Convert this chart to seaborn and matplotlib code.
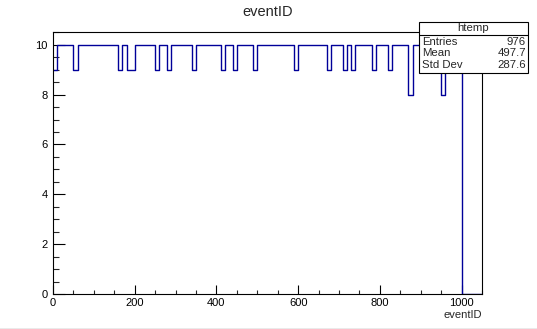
import numpy as np
import pandas as pd
import matplotlib
matplotlib.use("Agg")
import matplotlib.pyplot as plt
import seaborn as sns
from matplotlib.patches import Rectangle
from matplotlib.lines import Line2D
from matplotlib.ticker import MultipleLocator

# per-bin contents of htemp (bin width 10, 0 .. 1050)
counts = [
    9, 10, 10, 10, 10, 9, 10, 10, 10, 10,
    10, 10, 10, 10, 10, 10, 9, 10, 9, 9,
    10, 10, 10, 10, 10, 9, 10, 10, 9, 10,
    10, 10, 10, 10, 9, 10, 10, 10, 10, 10,
    10, 9, 10, 10, 9, 10, 10, 10, 10, 9,
    10, 10, 10, 10, 10, 10, 10, 10, 10, 9,
    10, 10, 10, 10, 10, 10, 10, 9, 10, 10,
    10, 9, 10, 9, 10, 10, 10, 10, 9, 10,
    10, 10, 9, 10, 10, 10, 10, 8, 10, 10,
    10, 9, 10, 10, 9, 8, 10, 10, 9, 10,
    0, 0, 0, 0, 0,
]
bin_lo = 0
bin_hi = 1050
bin_width = 10

stats_names = ["Entries", "Mean", "Std Dev"]
stats_values = ["976", "497.7", "287.6"]

centers = np.arange(len(counts)) * bin_width + bin_lo + bin_width / 2
df = pd.DataFrame({"eventID": centers, "w": np.array(counts, dtype=float)})

sns.set_style("white")
plt.rcParams["font.family"] = ["Liberation Sans", "DejaVu Sans"]

W, H = 537, 329
fig = plt.figure(figsize=(W / 100, H / 100), dpi=100)
ax = fig.add_axes([53 / W, 1 - 294 / H, (482 - 53) / W, (294 - 32.3) / H])

sns.histplot(data=df, x="eventID", weights="w", binwidth=bin_width,
             binrange=(bin_lo, bin_hi), element="step",
             fill=False, color="#000099", linewidth=1.0, ax=ax)

ax.set_xlim(bin_lo, bin_hi)
ax.set_ylim(0, 10.5)
ax.xaxis.set_major_locator(MultipleLocator(200))
ax.xaxis.set_minor_locator(MultipleLocator(50))
ax.yaxis.set_major_locator(MultipleLocator(2))
ax.yaxis.set_minor_locator(MultipleLocator(0.5))
ax.tick_params(axis="x", which="major", direction="in", length=6.5, width=0.8,
               labelsize=8, pad=3, colors="black")
ax.tick_params(axis="x", which="minor", direction="in", length=3.2, width=0.8)
ax.tick_params(axis="y", which="major", direction="in", length=8.8, width=0.8,
               labelsize=8, pad=4, colors="black")
ax.tick_params(axis="y", which="minor", direction="in", length=4.3, width=0.8)
ax.tick_params(bottom=True, left=True, which="both")
for s in ax.spines.values():
    s.set_color("black")
    s.set_linewidth(0.8)

ax.set_ylabel("")
ax.set_xlabel("eventID", loc="right", fontsize=8, labelpad=1.5)
fig.text(268 / W, 1 - 12 / H, "eventID", ha="center", va="center", fontsize=10.5)

# stats box
bx0, bx1, by0, by1, bsep = 419, 528, 21.7, 72.5, 35
fig.add_artist(Rectangle((bx0 / W, 1 - by1 / H), (bx1 - bx0) / W, (by1 - by0) / H,
                         transform=fig.transFigure, facecolor="white",
                         edgecolor="black", linewidth=0.8, zorder=10))
fig.add_artist(Line2D([bx0 / W, bx1 / W], [1 - bsep / H, 1 - bsep / H],
                      transform=fig.transFigure, color="black", linewidth=0.8, zorder=11))
fig.text((bx0 + bx1) / 2 / W, 1 - 27.8 / H, "htemp", ha="center", va="center",
         fontsize=8.2, zorder=12)
for i, (n, v) in enumerate(zip(stats_names, stats_values)):
    yy = 1 - (41.7 + i * 11.8) / H
    fig.text(422 / W, yy, n, ha="left", va="center", fontsize=8.2, zorder=12)
    fig.text(526 / W, yy, v, ha="right", va="center", fontsize=8.2, zorder=12)

fig.add_artist(Line2D([0, 1], [0.5 / H, 0.5 / H], transform=fig.transFigure,
                      color="#e6e6e6", linewidth=1.2))

fig.savefig("out.png", dpi=100)
